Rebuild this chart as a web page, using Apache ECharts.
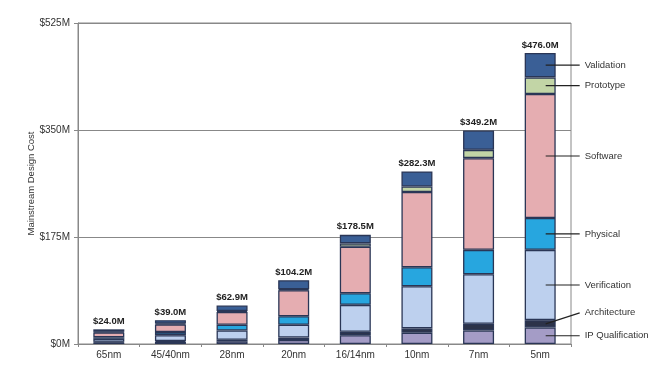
<!DOCTYPE html>
<html><head><meta charset="utf-8">
<script src="https://cdn.jsdelivr.net/npm/echarts@6/dist/echarts.min.js"></script>
<style>html,body{margin:0;padding:0;background:#fff}#c{width:664px;height:376px}</style>
</head><body><div id="c"></div>
<script>
const categories = ['65nm','45/40nm','28nm','20nm','16/14nm','10nm','7nm','5nm'];
const totals = [24.0,39.0,62.9,104.2,178.5,282.3,349.2,476.0];
const ipQualification = [2.5,3.5,4.5,6.5,14.5,18.5,22,27];
const architecture = [1,1.5,2.5,4,5.5,7,11,12];
const verification = [5,9.5,15,21,44,69,81,115];
const physical = [2.5,5,9.5,14,19,31,40,52];
const software = [8,12.5,21,42.5,76,123,150,203];
const prototype = [1,1.5,1.4,1.5,5.5,9,13.5,27];
const validation = [4,5.5,9,14.7,14,24.8,31.7,40];
const yTicks = [0,175,350,525];

const seriesNames = ['IP Qualification','Architecture','Verification','Physical','Software','Prototype','Validation'];
const seriesData = [ipQualification,architecture,verification,physical,software,prototype,validation];
const colors = ['#a49cc6','#2c3349','#bdd0ee','#27a6df','#e5adb1','#c2d5a6','#3a5f96'];
const FONT = '"Liberation Sans", Arial, sans-serif';

const chart = echarts.init(document.getElementById('c'), null, {renderer:'canvas'});
const series = seriesNames.map((n,i)=>({
  name:n, type:'bar', stack:'total', barWidth:31,
  data:seriesData[i],
  itemStyle:{color:colors[i], borderColor:'#2a3656', borderWidth:1.3},
  label: i===seriesNames.length-1 ? {
    show:true, position:'top', distance:3,
    formatter:p=>'$'+totals[p.dataIndex].toFixed(1)+'M',
    fontFamily:FONT, fontWeight:'bold', fontSize:9.5, color:'#222'
  } : {show:false},
  emphasis:{disabled:true},
  animation:false
}));

chart.setOption({
  animation:false,
  grid:{left:78,right:93,top:23,bottom:32,show:true,borderColor:'#888',borderWidth:1},
  xAxis:{type:'category',data:categories,
    axisLine:{lineStyle:{color:'#888'}},
    axisTick:{show:true,length:3,lineStyle:{color:'#888'}},
    axisLabel:{color:'#333',fontSize:10,fontFamily:FONT,margin:6}},
  yAxis:{type:'value',min:yTicks[0],max:yTicks[yTicks.length-1],interval:yTicks[1]-yTicks[0],
    name:'Mainstream Design Cost',nameLocation:'middle',nameGap:42,nameMoveOverlap:false,
    nameTextStyle:{color:'#333',fontSize:9.5,fontFamily:FONT},
    axisLine:{show:true,lineStyle:{color:'#888'}},
    axisTick:{show:true,length:4,lineStyle:{color:'#888'}},
    splitLine:{lineStyle:{color:'#888',width:1}},
    axisLabel:{formatter:v=>'$'+v+'M',color:'#333',fontSize:10,fontFamily:FONT,margin:8}},
  series:series
});

// right-side annotations for the last bar
const last = categories.length-1;
const graphics = [];
let cum = 0;
const barRight = chart.convertToPixel({seriesIndex:0},[last,0])[0] + 15.5;
const xStart = barRight - 10;
const xEnd = barRight + 24;
seriesNames.forEach((n,i)=>{
  const v = seriesData[i][last];
  const mid = cum + v/2;
  cum += v;
  const y = chart.convertToPixel({seriesIndex:0},[last,mid])[1];
  const yText = n==='Architecture' ? y-11 : y;
  graphics.push({type:'line',z:100,shape:{x1:xStart,y1:y,x2:xEnd,y2:yText},style:{stroke:'#222',lineWidth:1.2},silent:true});
  graphics.push({type:'text',z:100,x:xEnd+5,y:yText,style:{text:n,fill:'#333',fontSize:9.5,fontFamily:FONT,textVerticalAlign:'middle',verticalAlign:'middle'},silent:true});
});
chart.setOption({graphic:graphics});
</script></body></html>
